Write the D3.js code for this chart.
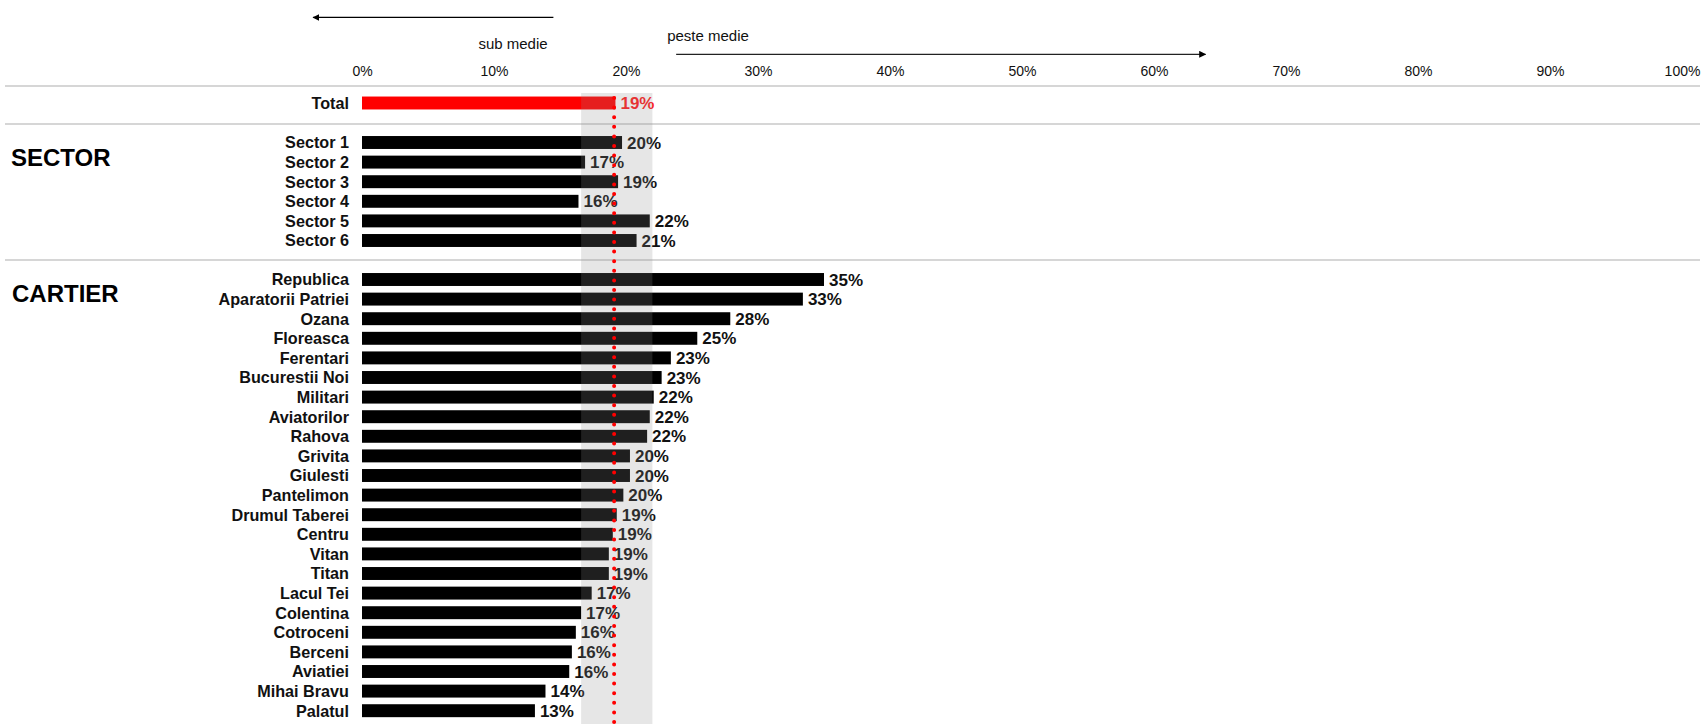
<!DOCTYPE html>
<html>
<head>
<meta charset="utf-8">
<script src="https://cdn.jsdelivr.net/npm/d3@7"></script>
<style>
  body { margin: 0; background: #fff; }
  text { font-family: "Liberation Sans", Arial, sans-serif; }
</style>
</head>
<body>
<div id="chart"></div>
<script>
// data (percent)
const totalLabel = ["Total"];
const totalValues = [19.2];

const sectors = ["Sector 1", "Sector 2", "Sector 3", "Sector 4", "Sector 5", "Sector 6"];
const sectorValues = [19.7, 16.9, 19.4, 16.4, 21.8, 20.8];

const cartiere = ["Republica", "Aparatorii Patriei", "Ozana", "Floreasca", "Ferentari",
  "Bucurestii Noi", "Militari", "Aviatorilor", "Rahova", "Grivita", "Giulesti", "Pantelimon",
  "Drumul Taberei", "Centru", "Vitan", "Titan", "Lacul Tei", "Colentina", "Cotroceni",
  "Berceni", "Aviatiei", "Mihai Bravu", "Palatul"];
const cartierValues = [35.0, 33.4, 27.9, 25.4, 23.4, 22.7, 22.1, 21.8, 21.6, 20.3, 20.3, 19.8,
  19.3, 19.0, 18.7, 18.7, 17.4, 16.6, 16.2, 15.9, 15.7, 13.9, 13.1];

const ticks = [0, 10, 20, 30, 40, 50, 60, 70, 80, 90, 100];
const average = 19.1;
const bandRange = [16.6, 22.0];

const width = 1704, height = 724;

const svg = d3.select("#chart")
  .append("svg")
  .attr("width", width)
  .attr("height", height);

const x = d3.scaleLinear().domain([0, 100]).range([362, 1682]);

const step = 19.6;
const band = (names, top) => d3.scaleBand()
  .domain(names)
  .range([top, top + step * names.length])
  .paddingInner(0.34)
  .paddingOuter(0.17);
const yTotal = band(totalLabel, 93.2);
const ySector = band(sectors, 132.7);
const yCartier = band(cartiere, 269.7);

// top axis labels
svg.append("g")
  .attr("transform", "translate(0,76)")
  .call(d3.axisTop(x).tickValues(ticks).tickFormat(d => d + "%").tickSize(0).tickPadding(0))
  .call(g => g.select(".domain").remove())
  .call(g => g.selectAll("text")
    .attr("font-size", 14)
    .attr("font-family", "Liberation Sans, Arial, sans-serif")
    .attr("fill", "#111")
    .attr("dy", 0));

// arrows
const defs = svg.append("defs");
defs.append("marker")
  .attr("id", "head")
  .attr("viewBox", "0 0 10 10")
  .attr("refX", 9).attr("refY", 5)
  .attr("markerWidth", 7).attr("markerHeight", 7)
  .attr("markerUnits", "userSpaceOnUse")
  .attr("orient", "auto")
  .append("path")
  .attr("d", "M0,0L10,5L0,10Z")
  .attr("fill", "#000");

svg.append("line")
  .attr("x1", x(14.5)).attr("x2", x(-3.7))
  .attr("y1", 17.4).attr("y2", 17.4)
  .attr("stroke", "#000").attr("stroke-width", 1.3)
  .attr("marker-end", "url(#head)");
svg.append("line")
  .attr("x1", x(23.8)).attr("x2", x(63.9))
  .attr("y1", 54.3).attr("y2", 54.3)
  .attr("stroke", "#222").attr("stroke-width", 1.3)
  .attr("marker-end", "url(#head)");

svg.append("text")
  .attr("x", 513).attr("y", 48.5)
  .attr("text-anchor", "middle")
  .attr("font-size", 15)
  .attr("fill", "#111")
  .text("sub medie");
svg.append("text")
  .attr("x", 708).attr("y", 41)
  .attr("text-anchor", "middle")
  .attr("font-size", 15)
  .attr("fill", "#111")
  .text("peste medie");

// separators
[86, 124, 260].forEach(yy => {
  svg.append("line")
    .attr("x1", 5).attr("x2", 1700)
    .attr("y1", yy).attr("y2", yy)
    .attr("stroke", "#c8c8c8").attr("stroke-width", 1.5);
});

// group titles
svg.append("text").attr("x", 11).attr("y", 166)
  .attr("font-size", 24).attr("font-weight", "bold").attr("fill", "#000")
  .text("SECTOR");
svg.append("text").attr("x", 12).attr("y", 302)
  .attr("font-size", 24).attr("font-weight", "bold").attr("fill", "#000")
  .text("CARTIER");

function drawGroup(names, values, y, color, labelColor) {
  const data = names.map((n, i) => ({name: n, value: values[i]}));
  const g = svg.append("g");

  g.selectAll("text.cat")
    .data(data)
    .join("text")
    .attr("class", "cat")
    .attr("x", 349)
    .attr("y", d => y(d.name) + y.bandwidth() / 2)
    .attr("dy", "0.36em")
    .attr("text-anchor", "end")
    .attr("font-size", 16.2)
    .attr("font-weight", "bold")
    .attr("fill", "#111")
    .text(d => d.name);

  g.selectAll("rect")
    .data(data)
    .join("rect")
    .attr("x", x(0))
    .attr("y", d => y(d.name))
    .attr("width", d => x(d.value) - x(0))
    .attr("height", y.bandwidth())
    .attr("fill", color);

  g.selectAll("text.val")
    .data(data)
    .join("text")
    .attr("class", "val")
    .attr("x", d => x(d.value) + 5)
    .attr("y", d => y(d.name) + y.bandwidth() / 2)
    .attr("dy", "0.36em")
    .attr("font-size", 17)
    .attr("font-weight", "bold")
    .attr("fill", labelColor)
    .text(d => Math.round(d.value) + "%");
}

drawGroup(totalLabel, totalValues, yTotal, "#ff0000", "#ff1a1a");
drawGroup(sectors, sectorValues, ySector, "#000", "#111");
drawGroup(cartiere, cartierValues, yCartier, "#000", "#111");

// average band overlay
svg.append("rect")
  .attr("x", x(bandRange[0]))
  .attr("y", 93)
  .attr("width", x(bandRange[1]) - x(bandRange[0]))
  .attr("height", height - 93)
  .attr("fill", "rgb(139,139,139)")
  .attr("fill-opacity", 0.22);

// average dotted line
svg.append("line")
  .attr("x1", x(average)).attr("x2", x(average))
  .attr("y1", 98).attr("y2", height)
  .attr("stroke", "#ff0000")
  .attr("stroke-width", 4)
  .attr("stroke-linecap", "round")
  .attr("stroke-dasharray", "0,9.6");
</script>
</body>
</html>
